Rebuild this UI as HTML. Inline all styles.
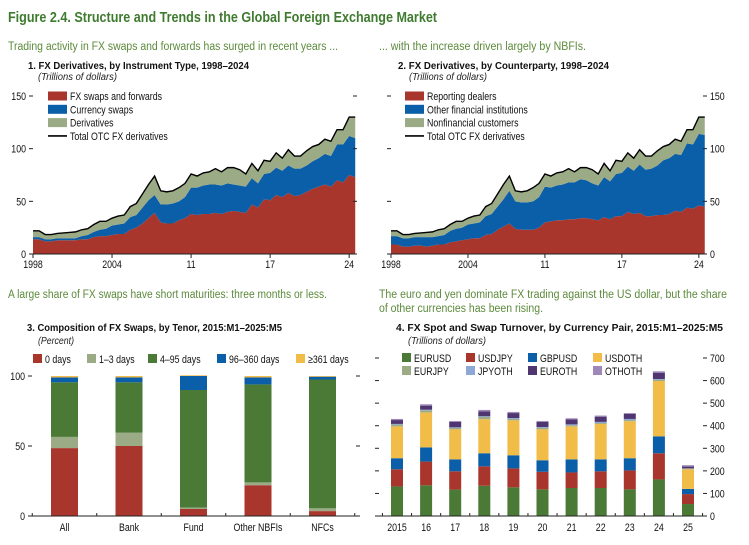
<!DOCTYPE html>
<html><head><meta charset="utf-8"><style>
html,body{margin:0;padding:0;background:#fff;}
svg{display:block;font-family:"Liberation Sans Narrow","Liberation Sans",sans-serif;}
</style></head><body>
<svg id="fig" width="749" height="545" viewBox="0 0 749 545">
<text x="8" y="22" font-size="14.5" font-weight="bold" fill="#3f7b2e" textLength="429" lengthAdjust="spacingAndGlyphs">Figure 2.4. Structure and Trends in the Global Foreign Exchange Market</text>
<text x="8" y="50" font-size="11.5" fill="#5b8a3a" textLength="330" lengthAdjust="spacingAndGlyphs">Trading activity in FX swaps and forwards has surged in recent years ...</text>
<text x="379" y="50" font-size="11.5" fill="#5b8a3a" textLength="207" lengthAdjust="spacingAndGlyphs">... with the increase driven largely by NBFIs.</text>
<text x="28" y="69" font-size="10.5" font-weight="bold" fill="#111" textLength="221" lengthAdjust="spacingAndGlyphs">1. FX Derivatives, by Instrument Type, 1998–2024</text>
<text x="38" y="80" font-size="10" font-style="italic" fill="#222" textLength="79" lengthAdjust="spacingAndGlyphs">(Trillions of dollars)</text>
<text x="398" y="69" font-size="10.5" font-weight="bold" fill="#111" textLength="211" lengthAdjust="spacingAndGlyphs">2. FX Derivatives, by Counterparty, 1998–2024</text>
<text x="409" y="80" font-size="10" font-style="italic" fill="#222" textLength="78" lengthAdjust="spacingAndGlyphs">(Trillions of dollars)</text>
<text x="8" y="298" font-size="11.5" fill="#5b8a3a" textLength="319" lengthAdjust="spacingAndGlyphs">A large share of FX swaps have short maturities: three months or less.</text>
<text x="379" y="298" font-size="11.5" fill="#5b8a3a" textLength="348" lengthAdjust="spacingAndGlyphs">The euro and yen dominate FX trading against the US dollar, but the share</text>
<text x="379" y="312" font-size="11.5" fill="#5b8a3a" textLength="164" lengthAdjust="spacingAndGlyphs">of other currencies has been rising.</text>
<text x="27" y="331" font-size="10.5" font-weight="bold" fill="#111" textLength="255" lengthAdjust="spacingAndGlyphs">3. Composition of FX Swaps, by Tenor, 2015:M1–2025:M5</text>
<text x="38" y="344" font-size="10" font-style="italic" fill="#222" textLength="36" lengthAdjust="spacingAndGlyphs">(Percent)</text>
<text x="396" y="331" font-size="10.5" font-weight="bold" fill="#111" textLength="327" lengthAdjust="spacingAndGlyphs">4. FX Spot and Swap Turnover, by Currency Pair, 2015:M1–2025:M5</text>
<text x="408" y="344" font-size="10" font-style="italic" fill="#222" textLength="78" lengthAdjust="spacingAndGlyphs">(Trillions of dollars)</text>
</svg>
<script>
// Panel 1 data (semiannual 1998H1..2024H2)
const p1Ticks = ["1998","2004","11","17","24"];
const p1FxSwaps = [14,14,12,12,13,13,13,13,14,14,16,17,17,18,19,19,23,25,29,34,39,30,29,29,32,34,38,37,38,38,39,38,40,41,40,39,47,44,52,51,56,54,58,55,56,59,62,64,66,64,70,68,75,73];
const p1CurSwaps = [2,2,2,2,2,2,2,2,3,4,5,6,7,9,9,10,12,12,15,17,17,17,18,19,18,20,25,26,27,28,27,27,27,25,25,25,25,23,24,26,26,25,26,26,25,25,26,27,29,29,34,36,37,37];
const p1Total = [22,22,18.5,18.5,19.5,20,20.5,21,23,24,28,31,31,34,36,37,45,48,57,66,74,60,59,60,63,67,76,74,77,78,81,78,82,82,80,76,86,79,89,88,96,91,99,93,93,98,102,104,109,107,118,118,130,130];
// Panel 2 data
const p2Dealers = [9,9,7,7,8,8,7,8,9,9,11,12,13,14,15,15,18,19,23,26,29,24,23,23,23,25,30,31,32,32,33,33,34,34,33,32,35,33,36,36,40,38,39,36,36,37,37,38,41,40,44,43,46,45];
const p2OtherFin = [8,8,8,8,8,8,9,8,8,9,11,12,12,14,14,15,18,19,22,26,31,26,26,26,27,29,34,32,33,34,35,35,37,36,34,33,38,36,40,41,43,41,46,44,45,47,52,53,54,54,61,61,68,68];
const p2Total = [22,22,18.5,18.5,19.5,20,20.5,21,23,24,28,31,31,34,36,37,45,48,57,66,74,60,59,60,63,67,76,74,77,78,81,78,82,82,80,76,86,79,89,88,96,91,99,93,93,98,102,104,109,107,118,118,130,130];
const p12YTicks = [0,50,100,150];
// Panel 3 data
const p3Cats = ["All","Bank","Fund","Other NBFIs","NFCs"];
const p3Days0 = [48.5,50,5,22,3.5];
const p3Days1to3 = [8,9.5,1,2,2];
const p3Days4to95 = [39,36,84,70,92];
const p3Days96to360 = [3.5,3.5,10,5,2];
const p3Days361 = [1,1,0.5,1,0.5];
const p3YTicks = [0,50,100];
// Panel 4 data
const p4Cats = ["2015","16","17","18","19","20","21","22","23","24","25"];
const p4EURUSD = [131,136,117,134,127,118,124,124,118,162,53];
const p4USDJPY = [76,105,81,86,84,78,69,74,84,116,44];
const p4GBPUSD = [49,63,53,58,58,51,58,53,54,75,23];
const p4USDOTH = [141,155,133,151,155,137,146,157,164,245,87];
const p4EURJPY = [8,9,6,10,6,7,5,4,5,6,3];
const p4JPYOTH = [3,3,3,3,4,3,4,5,5,3,1];
const p4EUROTH = [17,18,24,22,22,23,22,23,22,28,8];
const p4OTHOTH = [5,6,4,6,5,4,5,5,4,6,6];
const p4YTicks = [0,100,200,300,400,500,600,700];

const C = {red:"#a8362d",blue:"#0b5ea8",sage:"#9bab86",green:"#4a7a36",yellow:"#f2bc48",ltblue:"#8ea7d6",purple:"#4f3670",lav:"#9d88b8"};
const svg = document.getElementById('fig');
const NS = "http://www.w3.org/2000/svg";
function mk(tag, attrs, parent){const e=document.createElementNS(NS,tag);for(const k in attrs)e.setAttribute(k,attrs[k]);(parent||svg).appendChild(e);return e;}
function txt(x,y,s,size,anchor,parent){const t=mk('text',{x:x,y:y,'font-size':size,'text-anchor':anchor||'start',fill:'#111'},parent);t.textContent=s;return t;}

function areaPanel(opts){
  const g = mk('g',{});
  
  
  const n = opts.total.length;
  const xS = i => opts.x0 + i*opts.dx;
  const yS = v => opts.yBase - v*opts.ky;
  const lower = new Array(n).fill(0);
  opts.series.forEach(s=>{
    const upper = lower.map((l,i)=>l+s.vals[i]);
    let d = 'M'+xS(0)+','+yS(upper[0]);
    for(let i=1;i<n;i++) d+=' L'+xS(i)+','+yS(upper[i]);
    for(let i=n-1;i>=0;i--) d+=' L'+xS(i)+','+yS(lower[i]);
    const p = mk('path',{d:d+'Z',fill:s.color},g);
    
    
    for(let i=0;i<n;i++) lower[i]=upper[i];
  });
  let d='M'+xS(0)+','+yS(opts.total[0]);
  for(let i=1;i<n;i++) d+=' L'+xS(i)+','+yS(opts.total[i]);
  for(let i=n-1;i>=0;i--) d+=' L'+xS(i)+','+yS(lower[i]);
  const r = mk('path',{d:d+'Z',fill:C.sage},g);
  
  
  let ld='M'+xS(0)+','+yS(opts.total[0]);
  for(let i=1;i<n;i++) ld+=' L'+xS(i)+','+yS(opts.total[i]);
  const tl = mk('path',{d:ld,fill:'none',stroke:'#000','stroke-width':1.4},g);
  
  
  const xa = mk('line',{x1:opts.x0,x2:xS(n-1),y1:opts.yBase,y2:opts.yBase,stroke:'#222','stroke-width':1},g);
  
  
  opts.ticks.forEach((lab,k)=>{
    const x = xS(k*13);
    mk('line',{x1:x,x2:x,y1:opts.yBase,y2:opts.yBase+4,stroke:'#222'},g);
    const t = txt(x,opts.yBase+14,lab,11,'middle',g);
    
    
  });
  p12YTicks.forEach(v=>{
    const y = yS(v);
    mk('line',{x1:opts.lTick-4,x2:opts.lTick,y1:y,y2:y,stroke:'#222'},g);
    mk('line',{x1:opts.rTick,x2:opts.rTick+4,y1:y,y2:y,stroke:'#222'},g);
    const t = opts.labelLeft ? txt(opts.lTick-7,y+4,String(v),11,'end',g) : txt(opts.rTick+7,y+4,String(v),11,'start',g);
    
    
  });
  opts.legend.forEach((L,k)=>{
    const y = 96 + k*13.3;
    const lg = mk('g',{},g);
    
    
    if(L.line) mk('line',{x1:opts.legX,x2:opts.legX+19,y1:y,y2:y,stroke:'#000','stroke-width':1.6},lg);
    else mk('rect',{x:opts.legX,y:y-4.5,width:19,height:9,fill:L.color},lg);
    txt(opts.legX+22,y+4,L.label,11,'start',lg);
  });
}
areaPanel({name:'panel1-chart',x0:33,dx:6.08,yBase:254,ky:158/150,total:p1Total,
  series:[{key:'fx-swaps-forwards',vals:p1FxSwaps,color:C.red},{key:'currency-swaps',vals:p1CurSwaps,color:C.blue}],
  resKey:'derivatives',ticks:p1Ticks,lTick:33,rTick:353,labelLeft:true,legX:48,
  legend:[{label:'FX swaps and forwards',color:C.red},{label:'Currency swaps',color:C.blue},{label:'Derivatives',color:C.sage},{label:'Total OTC FX derivatives',line:true}]});
areaPanel({name:'panel2-chart',x0:391,dx:5.92,yBase:254,ky:158/150,total:p2Total,
  series:[{key:'reporting-dealers',vals:p2Dealers,color:C.red},{key:'other-financial',vals:p2OtherFin,color:C.blue}],
  resKey:'nonfinancial',ticks:p1Ticks,lTick:391,rTick:703,labelLeft:false,legX:405,
  legend:[{label:'Reporting dealers',color:C.red},{label:'Other financial institutions',color:C.blue},{label:'Nonfinancial customers',color:C.sage},{label:'Total OTC FX derivatives',line:true}]});

function barPanel(o){
  const g = mk('g',{});
  
  
  const yS = v => o.yBase - v*o.ky;
  o.cats.forEach((c,i)=>{
    const cx = o.cx0 + i*o.step;
    let acc = 0;
    o.series.forEach(s=>{
      const v = s.vals[i];
      const r = mk('rect',{x:cx-o.bw/2,y:yS(acc+v),width:o.bw,height:Math.max(0,v*o.ky),fill:s.color},g);
      
      
      acc += v;
    });
    const t = txt(cx,o.yBase+15,c,11,'middle',g);
    
    
  });
  const xa = mk('line',{x1:o.axL,x2:o.axR,y1:o.yBase,y2:o.yBase,stroke:'#222'},g);
  
  
  for(let i=0;i<=o.cats.length;i++){
    const x = o.cx0 + (i-0.5)*o.step;
    mk('line',{x1:x,x2:x,y1:o.yBase,y2:o.yBase-3,stroke:'#222'},g);
  }
  o.yTicks.forEach(v=>{
    const y=yS(v);
    mk('line',{x1:o.axL-4,x2:o.axL,y1:y,y2:y,stroke:'#222'},g);
    mk('line',{x1:o.axR,x2:o.axR+4,y1:y,y2:y,stroke:'#222'},g);
    const t = o.labelLeft ? txt(o.axL-7,y+4,String(v),11,'end',g) : txt(o.axR+7,y+4,String(v),11,'start',g);
    
    
  });
  o.legend.forEach(L=>{
    const lg = mk('g',{},g);
    
    
    mk('rect',{x:L.x,y:L.y-5,width:9,height:9,fill:L.color},lg);
    txt(L.x+12,L.y+4,L.label,11,'start',lg);
  });
}
barPanel({name:'panel3-chart',cats:p3Cats,cx0:64.5,step:64.5,bw:27,yBase:516,ky:140/100,axL:32,axR:356,yTicks:p3YTicks,labelLeft:true,
  series:[{key:'days-0',vals:p3Days0,color:C.red},{key:'days-1-3',vals:p3Days1to3,color:C.sage},{key:'days-4-95',vals:p3Days4to95,color:C.green},{key:'days-96-360',vals:p3Days96to360,color:C.blue},{key:'days-361',vals:p3Days361,color:C.yellow}],
  legend:[{x:33,y:359,label:'0 days',color:C.red},{x:87,y:359,label:'1–3 days',color:C.sage},{x:148,y:359,label:'4–95 days',color:C.green},{x:217,y:359,label:'96–360 days',color:C.blue},{x:296,y:359,label:'≥361 days',color:C.yellow}]});
barPanel({name:'panel4-chart',cats:p4Cats,cx0:397,step:29.1,bw:12,yBase:516,ky:158/700,axL:379,axR:703,yTicks:p4YTicks,labelLeft:false,
  series:[{key:'eurusd',vals:p4EURUSD,color:C.green},{key:'usdjpy',vals:p4USDJPY,color:C.red},{key:'gbpusd',vals:p4GBPUSD,color:C.blue},{key:'usdoth',vals:p4USDOTH,color:C.yellow},{key:'eurjpy',vals:p4EURJPY,color:C.sage},{key:'jpyoth',vals:p4JPYOTH,color:C.ltblue},{key:'euroth',vals:p4EUROTH,color:C.purple},{key:'othoth',vals:p4OTHOTH,color:C.lav}],
  legend:[{x:402,y:358,label:'EURUSD',color:C.green},{x:466,y:358,label:'USDJPY',color:C.red},{x:528,y:358,label:'GBPUSD',color:C.blue},{x:593,y:358,label:'USDOTH',color:C.yellow},
          {x:402,y:371,label:'EURJPY',color:C.sage},{x:466,y:371,label:'JPYOTH',color:C.ltblue},{x:528,y:371,label:'EUROTH',color:C.purple},{x:593,y:371,label:'OTHOTH',color:C.lav}]});

// condense script-generated text to mimic the narrow reference typeface
Array.from(svg.querySelectorAll('text')).forEach(t=>{
  if(t.hasAttribute('textLength')) return;
  const len = t.getComputedTextLength();
  if(len>0){ t.setAttribute('textLength', (len*0.8).toFixed(1)); t.setAttribute('lengthAdjust','spacingAndGlyphs'); }
});
</script>
</body></html>
